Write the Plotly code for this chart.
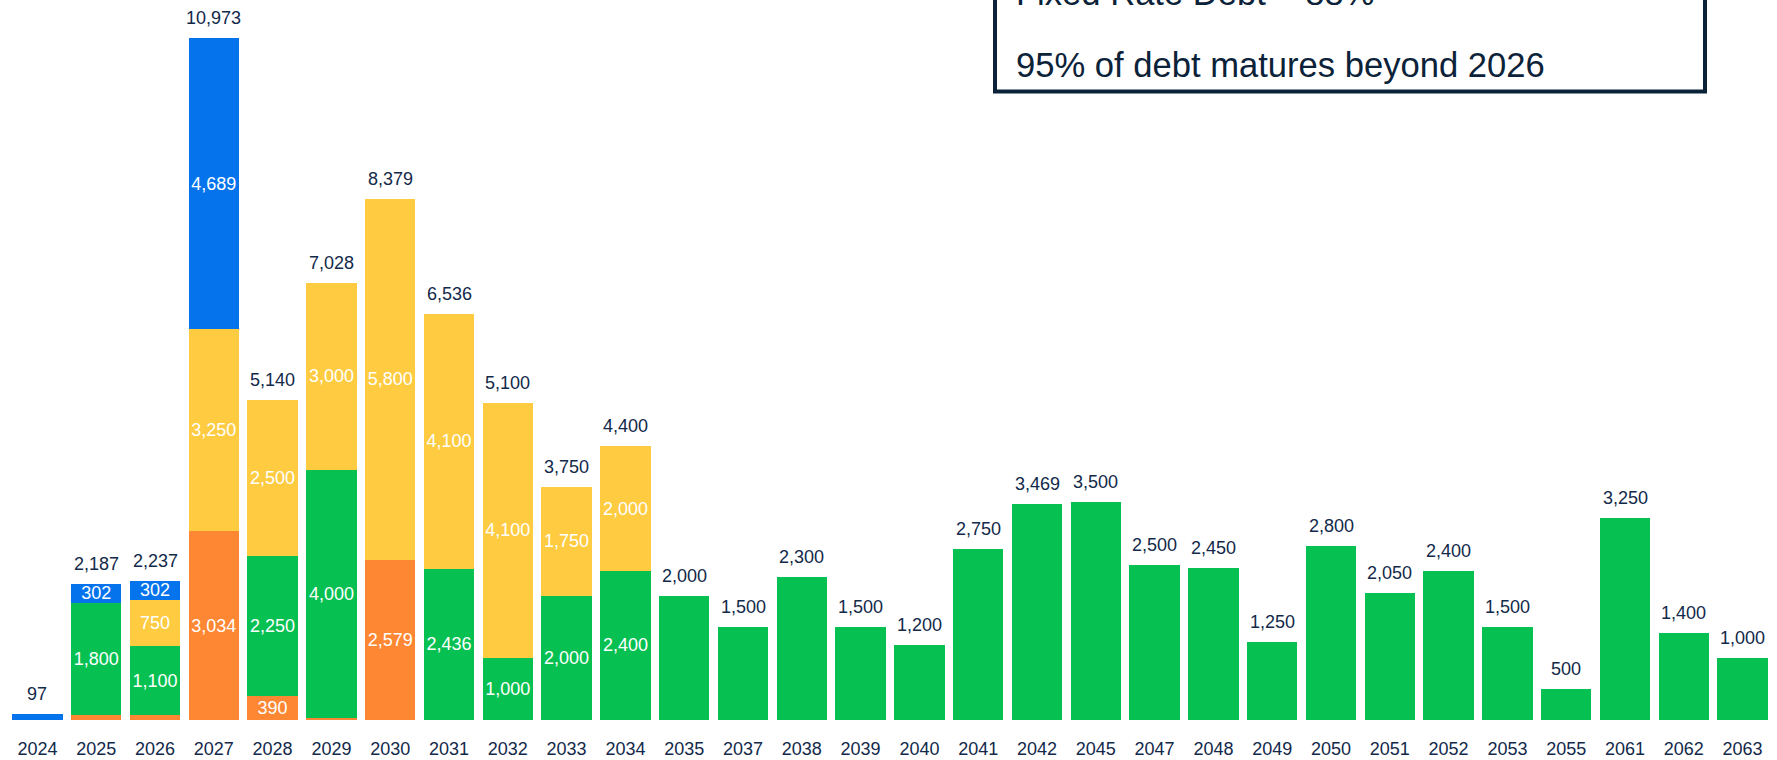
import plotly.graph_objects as go

years = ["2024", "2025", "2026", "2027", "2028", "2029", "2030", "2031", "2032", "2033",
         "2034", "2035", "2037", "2038", "2039", "2040", "2041", "2042", "2045", "2047",
         "2048", "2049", "2050", "2051", "2052", "2053", "2055", "2061", "2062", "2063"]

orange = [0, 85, 85, 3034, 390, 28, 2579, 0, 0, 0,
          0, 0, 0, 0, 0, 0, 0, 0, 0, 0,
          0, 0, 0, 0, 0, 0, 0, 0, 0, 0]
green = [0, 1800, 1100, 0, 2250, 4000, 0, 2436, 1000, 2000,
         2400, 2000, 1500, 2300, 1500, 1200, 2750, 3469, 3500, 2500,
         2450, 1250, 2800, 2050, 2400, 1500, 500, 3250, 1400, 1000]
yellow = [0, 0, 750, 3250, 2500, 3000, 5800, 4100, 4100, 1750,
          2000, 0, 0, 0, 0, 0, 0, 0, 0, 0,
          0, 0, 0, 0, 0, 0, 0, 0, 0, 0]
blue = [97, 302, 302, 4689, 0, 0, 0, 0, 0, 0,
        0, 0, 0, 0, 0, 0, 0, 0, 0, 0,
        0, 0, 0, 0, 0, 0, 0, 0, 0, 0]
totals = [97, 2187, 2237, 10973, 5140, 7028, 8379, 6536, 5100, 3750,
          4400, 2000, 1500, 2300, 1500, 1200, 2750, 3469, 3500, 2500,
          2450, 1250, 2800, 2050, 2400, 1500, 500, 3250, 1400, 1000]

box_line1 = "Fixed Rate Debt ~ 88%"
box_line2 = "95% of debt matures beyond 2026"

NAVY = "#12294A"
BOXC = "#0B2239"
FONT = "Liberation Sans, Arial, sans-serif"

W, H = 1777, 760
ML, MR, MT, MB = 8, 5, 0, 40
PW = W - ML - MR
PH = H - MT - MB


def px(page_x):
    return (page_x - ML) / PW


def py(page_y):
    return (H - MB - page_y) / PH


def labels(vals, min_val=300, skip_single=False):
    out = []
    for v, t in zip(vals, totals):
        if v < min_val:
            out.append("")
        elif skip_single and v == t:
            out.append("")
        else:
            out.append(f"{v:,}")
    return out


series = [
    ("Orange", orange, "#FE8733"),
    ("Green", green, "#06C152"),
    ("Yellow", yellow, "#FECB41"),
    ("Blue", blue, "#0473EC"),
]

fig = go.Figure()
for name, vals, color in series:
    txt = labels(vals, skip_single=(name == "Green"))
    fig.add_trace(go.Bar(
        x=years, y=vals, name=name,
        marker=dict(color=color, line=dict(width=0)),
        text=txt, textposition="inside", insidetextanchor="middle",
        textangle=0, constraintext="none", cliponaxis=False,
        textfont=dict(color="white", size=18, family=FONT),
        showlegend=False, hoverinfo="skip",
    ))

for i, t in enumerate(totals):
    fig.add_annotation(x=i, y=t, text=f"{t:,}", showarrow=False,
                       yanchor="middle", yshift=20,
                       font=dict(color=NAVY, size=18, family=FONT))

# info box
fig.add_shape(type="rect", xref="paper", yref="paper",
              x0=px(995), x1=px(1705), y0=py(91.5), y1=py(-60),
              line=dict(color=BOXC, width=4), fillcolor="rgba(0,0,0,0)")
fig.add_annotation(xref="paper", yref="paper", x=px(1014), y=py(-7),
                   xanchor="left", yanchor="middle", showarrow=False, text=box_line1,
                   font=dict(color=BOXC, size=34.6, family=FONT))
fig.add_annotation(xref="paper", yref="paper", x=px(1014), y=py(64.5),
                   xanchor="left", yanchor="middle", showarrow=False, text=box_line2,
                   font=dict(color=BOXC, size=34.6, family=FONT))

fig.update_layout(
    width=W, height=H,
    barmode="stack", bargap=0.14,
    margin=dict(l=ML, r=MR, t=MT, b=MB),
    paper_bgcolor="white", plot_bgcolor="white",
    font=dict(family=FONT, color=NAVY),
    hovermode=False,
    xaxis=dict(type="category", range=[-0.5, len(years) - 0.5],
               showline=False, showgrid=False, ticks="", fixedrange=True,
               tickangle=0, tickfont=dict(size=18, color=NAVY, family=FONT),
               ticklabelstandoff=16),
    yaxis=dict(visible=False, range=[0, 11580], showgrid=False, zeroline=False,
               fixedrange=True),
)

fig.write_html("out.html",
               config={"displayModeBar": False, "staticPlot": True},
               post_script="document.body.style.margin='0';document.body.style.overflow='hidden';")
